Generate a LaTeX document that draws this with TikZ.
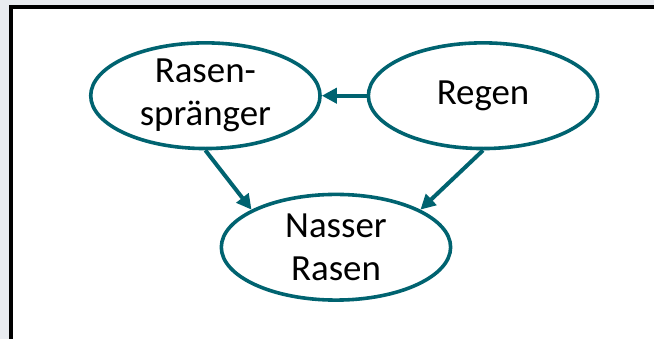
\documentclass[tikz,border=0pt]{standalone}
\usepackage{fontspec}
\setmainfont{Carlito}
\usetikzlibrary{shapes.geometric,arrows.meta}
\definecolor{tealline}{RGB}{0,99,112}
\definecolor{pagegray}{RGB}{233,236,240}
\tikzset{
  state/.style={ellipse, draw=tealline, line width=3.6pt, fill=white,
    minimum width=230pt, minimum height=106pt, inner sep=0pt,
    align=center, font=\fontsize{37}{43}\selectfont},
  link/.style={draw=tealline, line width=4pt,
    -{Triangle[length=15pt,width=15pt]}}
}
\begin{document}
\begin{tikzpicture}[x=1pt,y=-1pt]
  % canvas and frame
  \fill[pagegray] (0,0) rectangle (656,340);
  \fill[white] (11,7) rectangle (656,340);
  \draw[black, line width=4pt] (11,340) -- (11,7) -- (656,7);
  \useasboundingbox (0,0) rectangle (656,340);
  % states
  \node[state] (rs) at (206,96) {Rasen-\\spränger};
  \node[state] (rg) at (484.5,96) {Regen};
  \node[state] (nr) at (337,248) {Nasser\\Rasen};
  % causal links
  \draw[link] (rg.west) -- (rs.east);
  \draw[link] (rs.south) -- (nr.156);
  \draw[link] (rg.south) -- (nr.24);
\end{tikzpicture}
\end{document}
